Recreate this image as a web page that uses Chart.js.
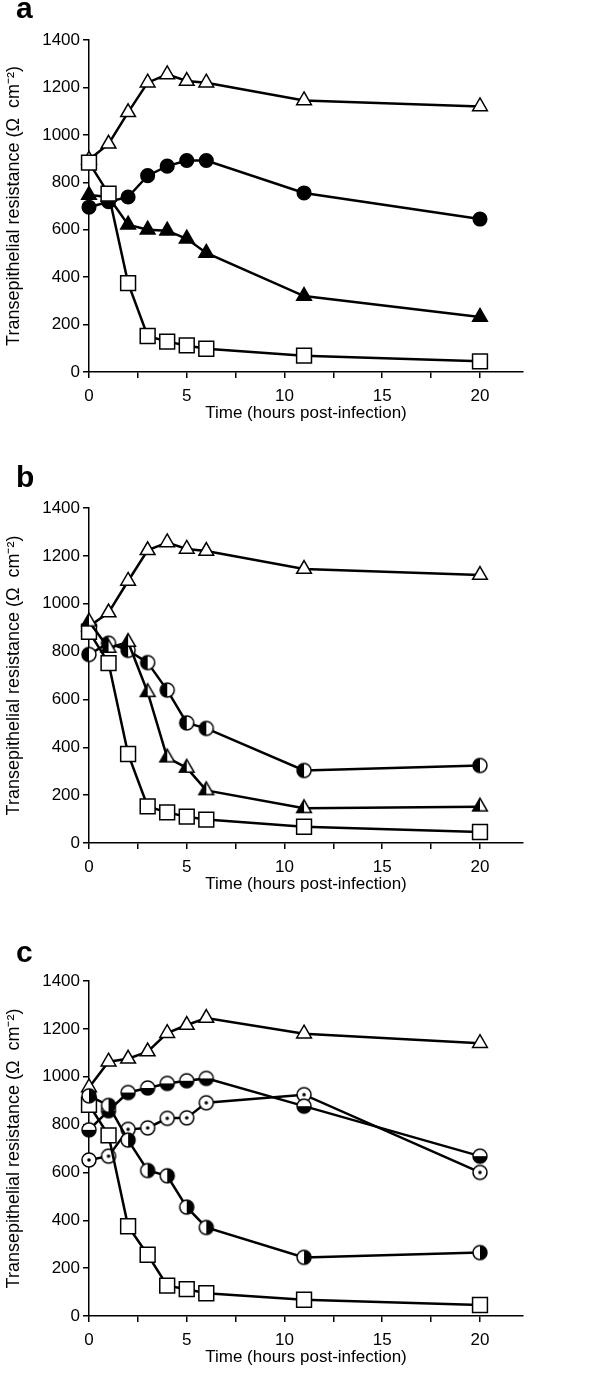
<!DOCTYPE html>
<html><head><meta charset="utf-8">
<script src="https://cdn.jsdelivr.net/npm/chart.js@4.4.0/dist/chart.umd.min.js"></script>
<style>
html,body{margin:0;padding:0;background:#fff;}
body{width:596px;height:1377px;position:relative;overflow:hidden;}
.panel{position:absolute;left:0;width:596px;height:460px;}
</style></head><body>
<div class="panel" style="top:-20px"><canvas id="ca" width="596" height="460"></canvas></div>
<div class="panel" style="top:448px"><canvas id="cb" width="596" height="460"></canvas></div>
<div class="panel" style="top:921px"><canvas id="cc" width="596" height="460"></canvas></div>
<script>
// ---------- data ----------
const hours = [0, 1, 2, 3, 4, 5, 6, 11, 20];
const xMajorTicks = [0, 5, 10, 15, 20];
const xMinorTicks = [2.5, 7.5, 12.5, 17.5];
const yTicks = [0, 200, 400, 600, 800, 1000, 1200, 1400];
const xTitle = 'Time (hours post-infection)';
const yTitle = 'Transepithelial resistance (\u03A9  cm\u207B\u00B2)';
const panelLetters = ['a', 'b', 'c'];

// Panel a
const aOpenTriangle   = [895, 962, 1095, 1220, 1255, 1227, 1220, 1145, 1120];
const aFilledCircle   = [695, 718, 738, 828, 868, 892, 892, 755, 645];
const aFilledTriangle = [746, 738, 621, 600, 596, 562, 502, 320, 232];
const aOpenSquare     = [883, 752, 375, 152, 128, 112, 98, 69, 45];

// Panel b
const bOpenTriangle   = [905, 963, 1095, 1223, 1256, 1229, 1220, 1145, 1120];
const bHalfTriangle   = [925, 815, 840, 630, 357, 314, 220, 145, 152];
const bHalfCircle     = [788, 835, 805, 754, 639, 502, 479, 303, 324];
const bOpenSquare     = [883, 752, 372, 153, 128, 110, 98, 68, 46];

// Panel c
const cOpenTriangle    = [955, 1063, 1075, 1105, 1182, 1216, 1245, 1180, 1140];
const cLowerHalfCircle = [778, 858, 934, 953, 972, 983, 993, 877, 668];
const cDotCircle       = [652, 668, 780, 786, 826, 828, 891, 925, 600];
const cRightHalfCircle = [920, 880, 735, 608, 586, 455, 370, 245, 265];
const cOpenSquare      = [883, 755, 375, 256, 127, 112, 95, 68, 46];

// ---------- marker images ----------
function makeMarker(kind) {
  const c = document.createElement('canvas');
  const size = 22;
  c.width = size; c.height = size;
  const g = c.getContext('2d');
  const cx = size / 2, cy = size / 2;
  g.lineWidth = 1.5; g.strokeStyle = '#000';
  if (kind === 'triLeft') {
    const r = 8.5, s = Math.sin(2 * Math.PI / 3) * r;
    const path = () => { g.beginPath(); g.moveTo(cx, cy - r); g.lineTo(cx + s, cy + r / 2); g.lineTo(cx - s, cy + r / 2); g.closePath(); };
    path(); g.fillStyle = '#fff'; g.fill();
    g.save(); path(); g.clip(); g.fillStyle = '#000'; g.fillRect(0, 0, cx, size); g.restore();
    path(); g.stroke();
    return c;
  }
  const r = 7;
  const path = () => { g.beginPath(); g.arc(cx, cy, r, 0, Math.PI * 2); };
  path(); g.fillStyle = '#fff'; g.fill();
  g.save(); path(); g.clip(); g.fillStyle = '#000';
  if (kind === 'circLeft') g.fillRect(0, 0, cx, size);
  if (kind === 'circRight') g.fillRect(cx, 0, size, size);
  if (kind === 'circBottom') g.fillRect(0, cy, size, size);
  g.restore();
  if (kind === 'circDot') { g.beginPath(); g.arc(cx, cy, 1.8, 0, Math.PI * 2); g.fillStyle = '#000'; g.fill(); }
  path(); g.stroke();
  return c;
}
const M = {
  openTri:   { pointStyle: 'triangle', pointRadius: 8.5, pointBackgroundColor: '#fff' },
  filledTri: { pointStyle: 'triangle', pointRadius: 8.5, pointBackgroundColor: '#000' },
  openSq:    { pointStyle: 'rect', pointRadius: 10.5, pointBackgroundColor: '#fff' },
  filledCirc:{ pointStyle: 'circle', pointRadius: 6.8, pointBackgroundColor: '#000' },
  triLeft:   { pointStyle: makeMarker('triLeft'), pointRadius: 8 },
  circLeft:  { pointStyle: makeMarker('circLeft'), pointRadius: 7 },
  circRight: { pointStyle: makeMarker('circRight'), pointRadius: 7 },
  circBottom:{ pointStyle: makeMarker('circBottom'), pointRadius: 7 },
  circDot:   { pointStyle: makeMarker('circDot'), pointRadius: 7 }
};

function ds(label, values, marker) {
  return Object.assign({
    label: label,
    data: hours.map((h, i) => ({ x: h, y: values[i] })),
    borderColor: '#000', borderWidth: 2.5, tension: 0, fill: false,
    pointBorderColor: '#000', pointBorderWidth: 1.5, clip: false
  }, M[marker]);
}

const FONT = "'Liberation Sans', Arial, Helvetica, sans-serif";
const H = 460;

function makeChart(id, letter, letterBaseline, datasets, plotBottom) {
  const letterPlugin = {
    id: 'letter',
    afterDraw(chart) {
      const ctx = chart.ctx;
      ctx.save();
      ctx.font = 'bold 30px ' + FONT;
      ctx.fillStyle = '#000';
      ctx.textBaseline = 'alphabetic';
      ctx.fillText(letter, 16, letterBaseline);
      ctx.restore();
    }
  };
  return new Chart(document.getElementById(id), {
    type: 'line',
    data: { datasets: datasets },
    plugins: [letterPlugin],
    options: {
      responsive: false, animation: false, devicePixelRatio: 1,
      layout: { padding: { top: 60, right: 73, bottom: 0, left: 0 } },
      plugins: { legend: { display: false }, tooltip: { enabled: false }, title: { display: false } },
      scales: {
        x: {
          type: 'linear', position: 'bottom', min: 0, max: 22.2,
          afterBuildTicks: s => { s.ticks = xMajorTicks.concat(xMinorTicks).sort((a, b) => a - b).map(v => ({ value: v })); },
          afterFit: s => { s.height = H - plotBottom; },
          ticks: {
            color: '#000', font: { family: FONT, size: 17 }, padding: 8, maxRotation: 0, autoSkip: false,
            callback: v => xMajorTicks.includes(v) ? String(v) : ''
          },
          grid: { display: true, drawOnChartArea: false, drawTicks: true, tickLength: 6, color: '#000', lineWidth: 1.5 },
          border: { display: true, color: '#000', width: 1.5 },
          title: { display: true, text: xTitle, color: '#000', font: { family: FONT, size: 17 }, padding: { top: 0, bottom: H - plotBottom - 40 - 12 } }
        },
        y: {
          type: 'linear', min: 0, max: 1400,
          afterBuildTicks: s => { s.ticks = yTicks.map(v => ({ value: v })); },
          afterFit: s => { s.width = 89; },
          ticks: { color: '#000', font: { family: FONT, size: 17 }, padding: 3, callback: v => String(v) },
          grid: { display: true, drawOnChartArea: false, drawTicks: true, tickLength: 6, color: '#000', lineWidth: 1.5 },
          border: { display: true, color: '#000', width: 1.5 },
          title: { display: true, text: yTitle, color: '#000', font: { family: FONT, size: 18 }, padding: { top: 3, bottom: 0 } }
        }
      }
    }
  });
}

makeChart('ca', panelLetters[0], 38, [
  ds('open square', aOpenSquare, 'openSq'),
  ds('open triangle', aOpenTriangle, 'openTri'),
  ds('filled triangle', aFilledTriangle, 'filledTri'),
  ds('filled circle', aFilledCircle, 'filledCirc')
], 392);

makeChart('cb', panelLetters[1], 39, [
  ds('half triangle', bHalfTriangle, 'triLeft'),
  ds('half circle', bHalfCircle, 'circLeft'),
  ds('open square', bOpenSquare, 'openSq'),
  ds('open triangle', bOpenTriangle, 'openTri')
], 395);

makeChart('cc', panelLetters[2], 41, [
  ds('right half circle', cRightHalfCircle, 'circRight'),
  ds('lower half circle', cLowerHalfCircle, 'circBottom'),
  ds('open square', cOpenSquare, 'openSq'),
  ds('dot circle', cDotCircle, 'circDot'),
  ds('open triangle', cOpenTriangle, 'openTri')
], 395);
</script>
</body></html>
